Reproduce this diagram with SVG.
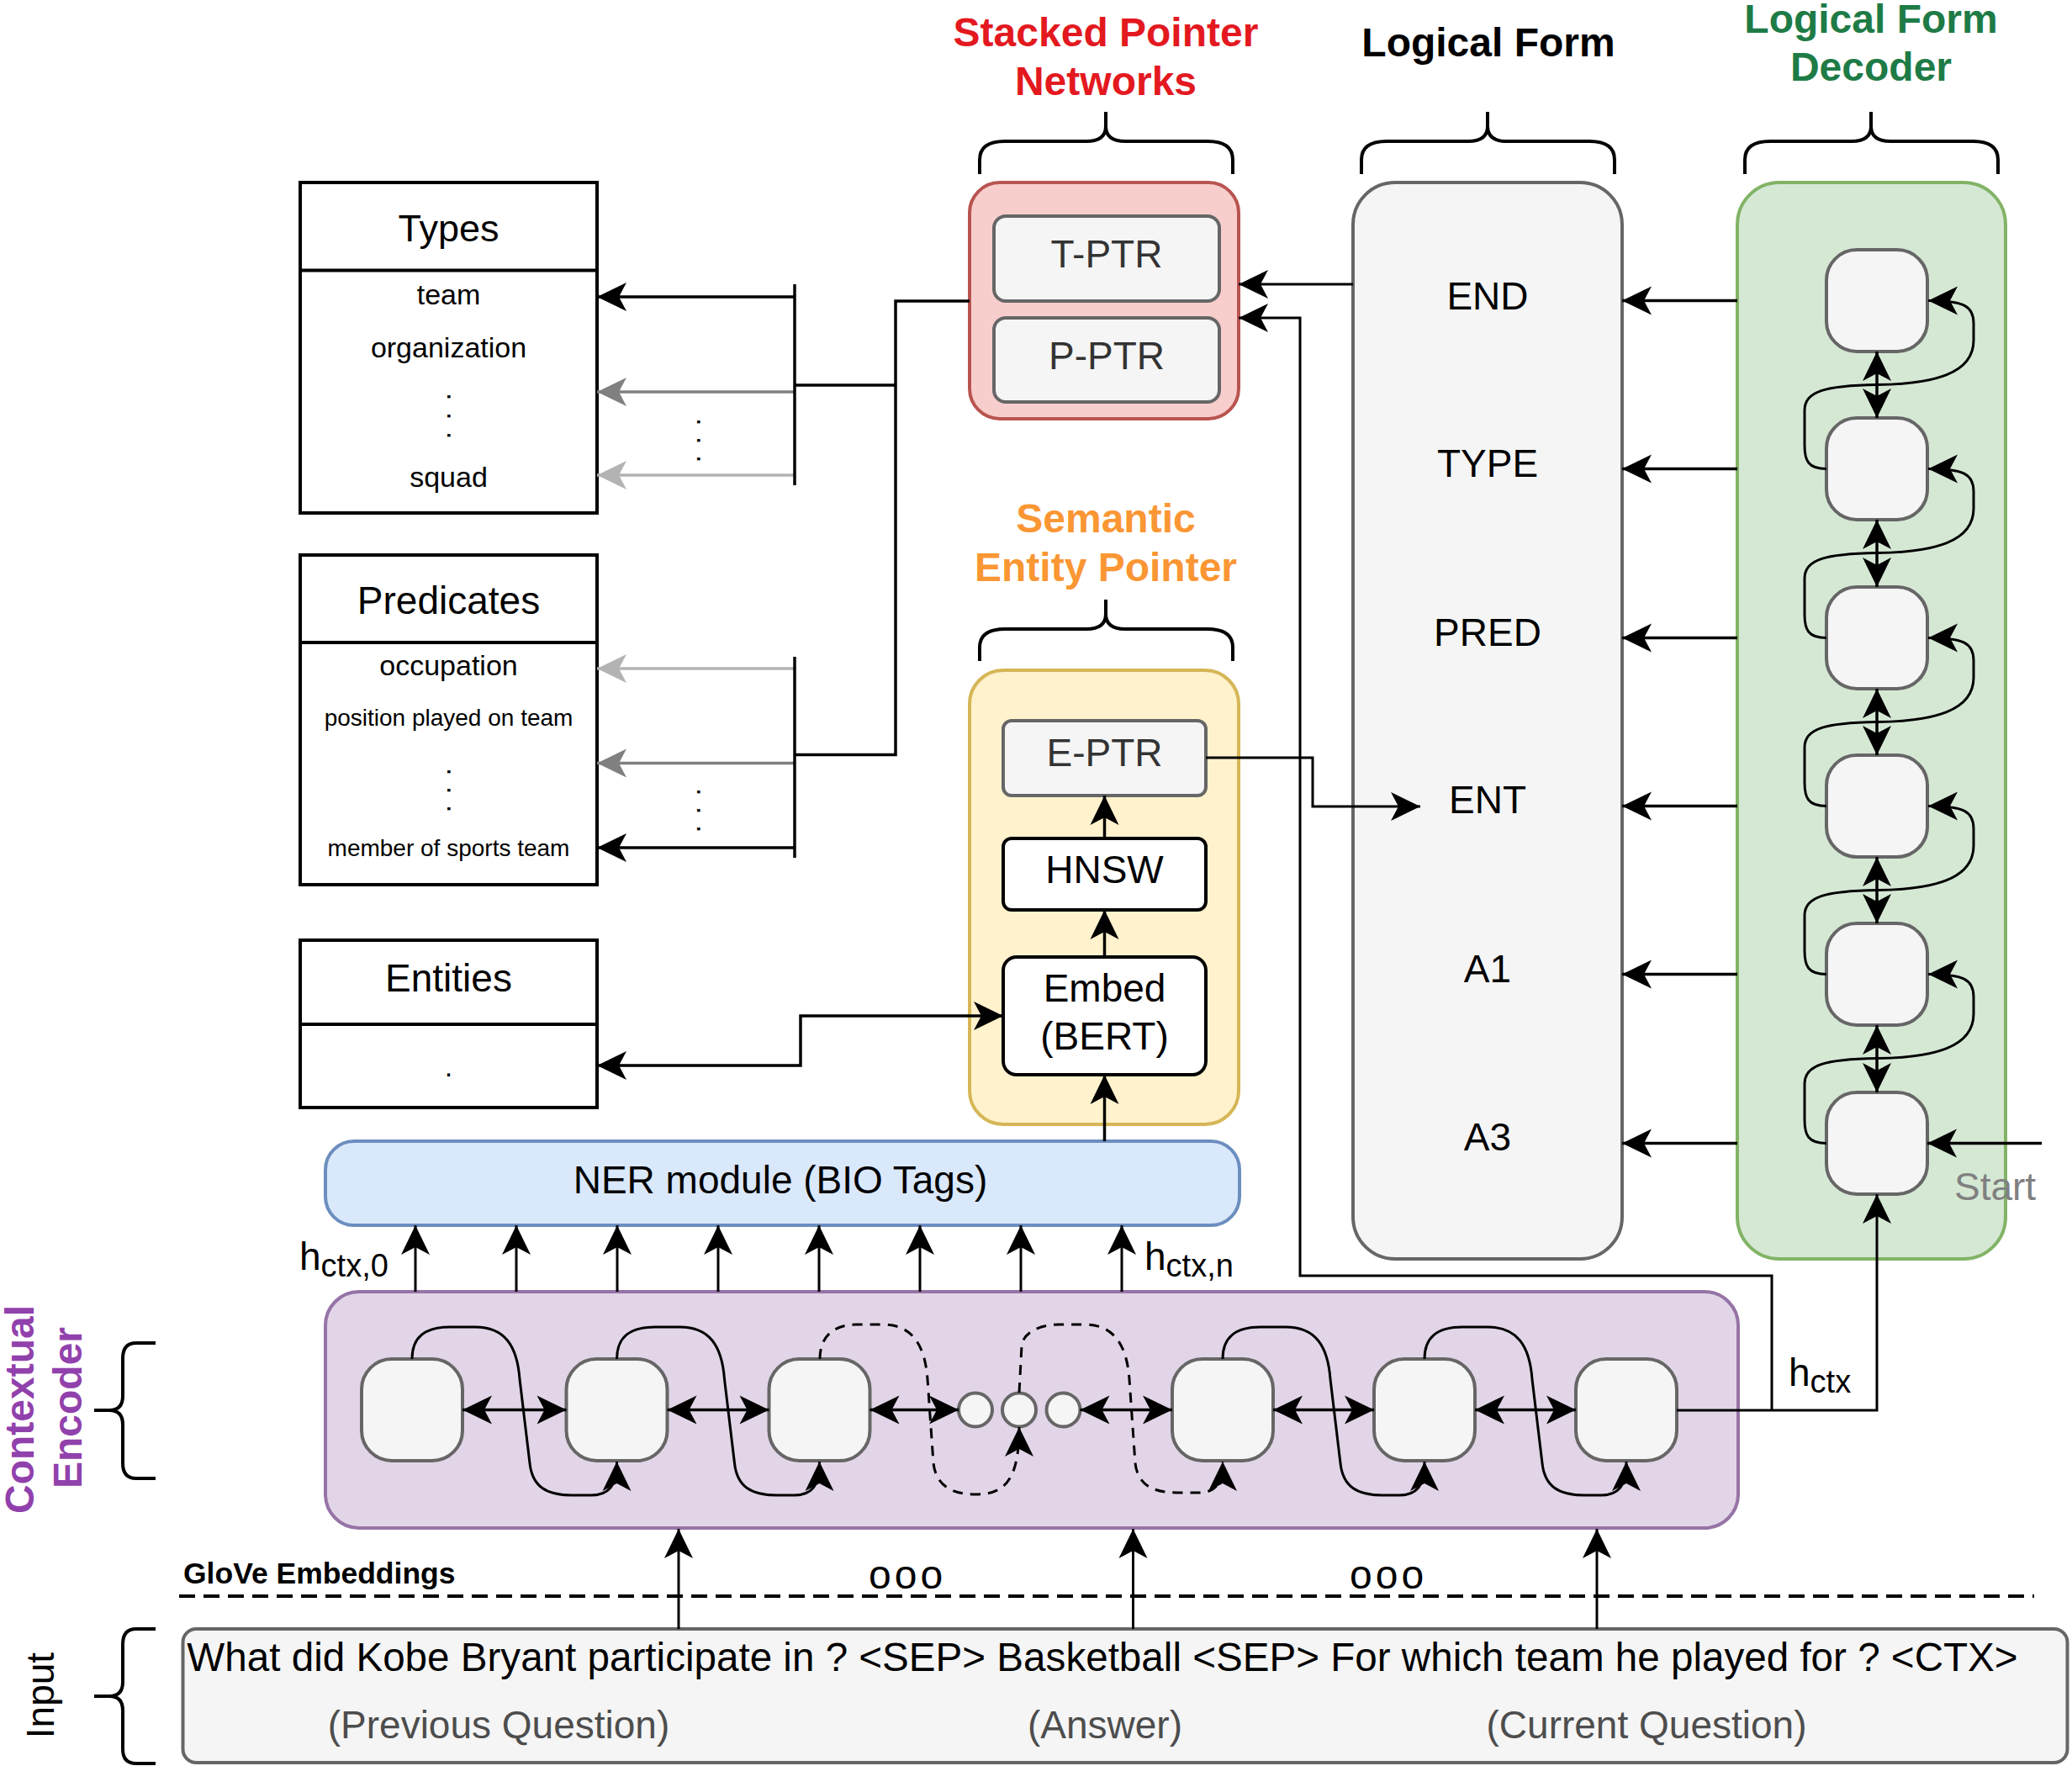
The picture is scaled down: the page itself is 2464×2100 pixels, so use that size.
<svg xmlns="http://www.w3.org/2000/svg" width="2464" height="2100" viewBox="0 0 2464 2100">
<style>
text{font-family:"Liberation Sans",Arial,Helvetica,sans-serif;fill:#000}
.ln{fill:none;stroke:#000;stroke-width:3.5}
.th{fill:none;stroke:#000;stroke-width:3}
.ds{fill:none;stroke:#000;stroke-width:3;stroke-dasharray:12 9}
.ar{marker-end:url(#ah)}
.ab{marker-start:url(#ah);marker-end:url(#ah)}
.brace{fill:none;stroke:#000;stroke-width:4}
.box{fill:#fff;stroke:#000;stroke-width:4}
.node{fill:#f5f5f5;stroke:#666;stroke-width:4}
.t46{font-size:46px;text-anchor:middle}
.ttl{font-size:48px;font-weight:bold;text-anchor:middle}
.vd{font-size:34px;letter-spacing:13.5px}
</style>
<defs>
<marker id="ah" markerUnits="userSpaceOnUse" viewBox="-36 -18 37 36" refX="0" refY="0" markerWidth="37" markerHeight="36" orient="auto-start-reverse"><path d="M0,0 L-35,-17 L-26,0 L-35,17 Z" fill="#000"/></marker>
<marker id="ahg" markerUnits="userSpaceOnUse" viewBox="-36 -18 37 36" refX="0" refY="0" markerWidth="37" markerHeight="36" orient="auto"><path d="M0,0 L-35,-17 L-26,0 L-35,17 Z" fill="#808080"/></marker>
<marker id="ahl" markerUnits="userSpaceOnUse" viewBox="-36 -18 37 36" refX="0" refY="0" markerWidth="37" markerHeight="36" orient="auto"><path d="M0,0 L-35,-17 L-26,0 L-35,17 Z" fill="#b3b3b3"/></marker>
</defs>
<rect width="2464" height="2100" fill="#fff"/>

<!-- Titles and braces -->
<g id="title-stacked">
<text class="ttl" x="1315" y="55" style="fill:#e3191f">Stacked Pointer</text>
<text class="ttl" x="1315" y="113" style="fill:#e3191f">Networks</text>
<path class="brace" d="M1165,207 L1165,190 Q1165,168 1195,168 L1292,168 Q1315,168 1315,150 L1315,133 M1315,150 Q1315,168 1338,168 L1436,168 Q1466,168 1466,190 L1466,207"/>
</g>
<g id="title-lf">
<text class="ttl" x="1770" y="67">Logical Form</text>
<path class="brace" d="M1619,207 L1619,190 Q1619,168 1649,168 L1746,168 Q1769,168 1769,150 L1769,133 M1769,150 Q1769,168 1792,168 L1890,168 Q1920,168 1920,190 L1920,207"/>
</g>
<g id="title-decoder">
<text class="ttl" x="2225" y="39" style="fill:#1e7b46">Logical Form</text>
<text class="ttl" x="2225" y="96" style="fill:#1e7b46">Decoder</text>
<path class="brace" d="M2075,207 L2075,190 Q2075,168 2105,168 L2202,168 Q2225,168 2225,150 L2225,133 M2225,150 Q2225,168 2248,168 L2346,168 Q2376,168 2376,190 L2376,207"/>
</g>
<g id="title-semantic">
<text class="ttl" x="1315" y="633" style="fill:#fa9633">Semantic</text>
<text class="ttl" x="1315" y="691" style="fill:#fa9633">Entity Pointer</text>
<path class="brace" d="M1165,786 L1165,770 Q1165,748 1195,748 L1292,748 Q1315,748 1315,730 L1315,713 M1315,730 Q1315,748 1338,748 L1436,748 Q1466,748 1466,770 L1466,786"/>
</g>

<!-- Types -->
<g id="types">
<rect class="box" x="357" y="217" width="353" height="393"/>
<line x1="357" y1="321.5" x2="710" y2="321.5" stroke="#000" stroke-width="4"/>
<text x="533.5" y="287" font-size="45" text-anchor="middle">Types</text>
<text x="533.5" y="362" font-size="34" text-anchor="middle">team</text>
<text x="533.5" y="425" font-size="34" text-anchor="middle">organization</text>
<text class="vd" transform="translate(531.5,467) rotate(90)">...</text>
<text x="533.5" y="579" font-size="34" text-anchor="middle">squad</text>
</g>
<!-- Predicates -->
<g id="predicates">
<rect class="box" x="357" y="660" width="353" height="392"/>
<line x1="357" y1="764" x2="710" y2="764" stroke="#000" stroke-width="4"/>
<text x="533.5" y="730" font-size="46" text-anchor="middle">Predicates</text>
<text x="533.5" y="803" font-size="34" text-anchor="middle">occupation</text>
<text x="533.5" y="863" font-size="28" text-anchor="middle">position played on team</text>
<text class="vd" transform="translate(531.5,913) rotate(90)" style="letter-spacing:12.5px">...</text>
<text x="533.5" y="1018" font-size="28" text-anchor="middle">member of sports team</text>
</g>
<!-- Entities -->
<g id="entities">
<rect class="box" x="357" y="1118" width="353" height="199"/>
<line x1="357" y1="1218" x2="710" y2="1218" stroke="#000" stroke-width="4"/>
<text x="533.5" y="1179" font-size="46" text-anchor="middle">Entities</text>
<text x="533.5" y="1280" font-size="34" text-anchor="middle">.</text>
</g>
<g id="bar-dots">
<text class="vd" transform="translate(829,497) rotate(90)" style="letter-spacing:12.5px">...</text>
<text class="vd" transform="translate(829,937) rotate(90)" style="letter-spacing:12.5px">...</text>
</g>

<!-- Stacked pointer networks -->
<g id="stacked-ptr">
<rect x="1153" y="217" width="320" height="281" rx="36" fill="#f8cecc" stroke="#b85450" stroke-width="4"/>
<rect class="node" x="1182" y="257" width="268" height="101" rx="14"/>
<text class="t46" x="1316" y="318" style="fill:#333">T-PTR</text>
<rect class="node" x="1182" y="378" width="268" height="100" rx="14"/>
<text class="t46" x="1316" y="439" style="fill:#333">P-PTR</text>
</g>

<!-- Semantic entity pointer -->
<g id="semantic-ptr">
<rect x="1153" y="797" width="320" height="540" rx="40" fill="#fff2cc" stroke="#d6b656" stroke-width="4"/>
<rect class="node" x="1193" y="857" width="241" height="89" rx="10"/>
<text class="t46" x="1313.5" y="911" style="fill:#333">E-PTR</text>
<rect class="box" x="1193" y="997" width="241" height="85" rx="10"/>
<text class="t46" x="1313.5" y="1050">HNSW</text>
<rect class="box" x="1193" y="1138" width="241" height="140" rx="16"/>
<text class="t46" x="1313.5" y="1191">Embed</text>
<text class="t46" x="1313.5" y="1248">(BERT)</text>
</g>

<!-- Logical form -->
<g id="logical-form">
<rect x="1609" y="217" width="320" height="1280" rx="50" fill="#f5f5f5" stroke="#666" stroke-width="4"/>
<text class="t46" x="1769" y="368">END</text>
<text class="t46" x="1769" y="567">TYPE</text>
<text class="t46" x="1769" y="768">PRED</text>
<text class="t46" x="1769" y="967">ENT</text>
<text class="t46" x="1769" y="1168">A1</text>
<text class="t46" x="1769" y="1368">A3</text>
</g>

<!-- Decoder -->
<g id="decoder">
<rect x="2066" y="217" width="319" height="1280" rx="50" fill="#d5e8d4" stroke="#82b366" stroke-width="4"/>
<rect class="node" x="2172" y="297" width="120" height="121" rx="36"/>
<rect class="node" x="2172" y="497" width="120" height="121" rx="36"/>
<rect class="node" x="2172" y="698" width="120" height="121" rx="36"/>
<rect class="node" x="2172" y="898" width="120" height="121" rx="36"/>
<rect class="node" x="2172" y="1098" width="120" height="121" rx="36"/>
<rect class="node" x="2172" y="1299" width="120" height="121" rx="36"/>
<text x="2324" y="1427" font-size="46" style="fill:#808080">Start</text>
</g>

<!-- NER -->
<g id="ner">
<rect x="387" y="1357" width="1087" height="100" rx="34" fill="#dae8fc" stroke="#6c8ebf" stroke-width="4"/>
<text class="t46" x="928" y="1419">NER module (BIO Tags)</text>
</g>

<!-- Encoder -->
<g id="encoder">
<rect x="387" y="1536" width="1680" height="281" rx="40" fill="#e1d5e7" stroke="#9673a6" stroke-width="4"/>
<rect class="node" x="430" y="1616" width="120" height="121" rx="36"/>
<rect class="node" x="673.5" y="1616" width="120" height="121" rx="36"/>
<rect class="node" x="914.5" y="1616" width="120" height="121" rx="36"/>
<circle class="node" cx="1160" cy="1676.5" r="20" stroke-width="3.5"/>
<circle class="node" cx="1212" cy="1676.5" r="20" stroke-width="3.5"/>
<circle class="node" cx="1264.5" cy="1676.5" r="20" stroke-width="3.5"/>
<rect class="node" x="1394" y="1616" width="120" height="121" rx="36"/>
<rect class="node" x="1634" y="1616" width="120" height="121" rx="36"/>
<rect class="node" x="1874" y="1616" width="120" height="121" rx="36"/>
</g>
<g id="encoder-label">
<text transform="translate(40,1676) rotate(-90)" font-size="48" font-weight="bold" text-anchor="middle" style="fill:#9141ac">Contextual</text>
<text transform="translate(97,1674) rotate(-90)" font-size="48" font-weight="bold" text-anchor="middle" style="fill:#9141ac">Encoder</text>
<path class="brace" d="M185,1597 L162,1597 Q146,1597 146,1615 L146,1660 Q146,1677 130,1677 L112,1677 M130,1677 Q146,1677 146,1694 L146,1740 Q146,1758 162,1758 L185,1758"/>
</g>

<!-- Input -->
<g id="input">
<rect x="217.5" y="1937" width="2241" height="159" rx="16" fill="#f5f5f5" stroke="#666" stroke-width="4"/>
<text x="1311" y="1987" font-size="47.6" text-anchor="middle">What did Kobe Bryant participate in ? &lt;SEP&gt; Basketball &lt;SEP&gt; For which team he played for ? &lt;CTX&gt;</text>
<text x="593" y="2067" font-size="46" text-anchor="middle" style="fill:#4d4d4d">(Previous Question)</text>
<text x="1314" y="2067" font-size="46" text-anchor="middle" style="fill:#4d4d4d">(Answer)</text>
<text x="1958" y="2067" font-size="46" text-anchor="middle" style="fill:#4d4d4d">(Current Question)</text>
</g>
<g id="input-label">
<text transform="translate(64,2016) rotate(-90)" font-size="46" text-anchor="middle">Input</text>
<path class="brace" d="M185,1937 L162,1937 Q146,1937 146,1955 L146,2000 Q146,2017 130,2017 L112,2017 M130,2017 Q146,2017 146,2034 L146,2080 Q146,2097 162,2097 L185,2097"/>
</g>
<g id="glove">
<text x="218" y="1883" font-size="35.5" font-weight="bold">GloVe Embeddings</text>
<line x1="213" y1="1898" x2="2419" y2="1898" stroke="#000" stroke-width="4" stroke-dasharray="19 10"/>
<text x="1033" y="1889" font-size="48" letter-spacing="4">ooo</text>
<text x="1605" y="1889" font-size="48" letter-spacing="4">ooo</text>
</g>

<!-- Labels -->
<g id="labels">
<text x="356" y="1510" font-size="46">h<tspan font-size="38" dy="8">ctx,0</tspan></text>
<text x="1361" y="1510" font-size="46">h<tspan font-size="38" dy="8">ctx,n</tspan></text>
<text x="2127" y="1648" font-size="46">h<tspan font-size="38" dy="8">ctx</tspan></text>
</g>

<!-- Connectors -->
<g id="connectors">
<path class="ln ar" d="M945,353 H710"/>
<path d="M945,466 H710" fill="none" stroke="#808080" stroke-width="3.5" marker-end="url(#ahg)"/>
<path d="M945,565 H710" fill="none" stroke="#b3b3b3" stroke-width="3.5" marker-end="url(#ahl)"/>
<path class="ln" d="M945,338 V577"/>
<path d="M945,795 H710" fill="none" stroke="#b3b3b3" stroke-width="3.5" marker-end="url(#ahl)"/>
<path d="M945,907.5 H710" fill="none" stroke="#808080" stroke-width="3.5" marker-end="url(#ahg)"/>
<path class="ln ar" d="M945,1008 H710"/>
<path class="ln" d="M945,781 V1020"/>
<path class="ln" d="M1153,358 H1065 V897.5 H945 M1065,458 H945"/>
<path class="ln ab" d="M710,1267 H952 V1208 H1193"/>
<path class="ln ar" d="M1313.5,1357 V1278"/>
<path class="ln ar" d="M1313.5,1138 V1082"/>
<path class="ln ar" d="M1313.5,997 V946"/>
<path class="th ar" d="M1434,901 H1561 V959 H1689"/>
<path class="th ar" d="M1609,338 H1473"/>
<path class="th ar" d="M2107,1677 V1517 H1546 V378 H1473"/>
<path class="th ar" d="M1994,1677 H2232 V1420"/>
<path class="ln ar" d="M2066,357.5 H1929"/>
<path class="ln ar" d="M2066,557.5 H1929"/>
<path class="ln ar" d="M2066,758.5 H1929"/>
<path class="ln ar" d="M2066,958.5 H1929"/>
<path class="ln ar" d="M2066,1158.5 H1929"/>
<path class="ln ar" d="M2066,1359.5 H1929"/>
<path class="ln ar" d="M2428,1359.5 H2292"/>
<path class="ln ab" d="M2232,418 V497"/>
<path class="ln ab" d="M2232,618 V698"/>
<path class="ln ab" d="M2232,819 V898"/>
<path class="ln ab" d="M2232,1019 V1098"/>
<path class="ln ab" d="M2232,1219 V1299"/>
<path class="th ar" d="M2172,557.5 C2150,557.5 2146,547.5 2146,529.5 L2146,487.5 C2146,465.5 2170,458.5 2232,457.5 C2300,456.5 2347,444.5 2347,404.5 L2347,384.5 C2347,363.5 2335,357.5 2293,357.5"/>
<path class="th ar" d="M2172,758.5 C2150,758.5 2146,748.5 2146,730.5 L2146,687.5 C2146,665.5 2170,658.5 2232,657.5 C2300,656.5 2347,644.5 2347,604.5 L2347,584.5 C2347,563.5 2335,557.5 2293,557.5"/>
<path class="th ar" d="M2172,958.5 C2150,958.5 2146,948.5 2146,930.5 L2146,888.5 C2146,866.5 2170,859.5 2232,858.5 C2300,857.5 2347,845.5 2347,805.5 L2347,785.5 C2347,764.5 2335,758.5 2293,758.5"/>
<path class="th ar" d="M2172,1158.5 C2150,1158.5 2146,1148.5 2146,1130.5 L2146,1088.5 C2146,1066.5 2170,1059.5 2232,1058.5 C2300,1057.5 2347,1045.5 2347,1005.5 L2347,985.5 C2347,964.5 2335,958.5 2293,958.5"/>
<path class="th ar" d="M2172,1359.5 C2150,1359.5 2146,1349.5 2146,1331.5 L2146,1288.5 C2146,1266.5 2170,1259.5 2232,1258.5 C2300,1257.5 2347,1245.5 2347,1205.5 L2347,1185.5 C2347,1164.5 2335,1158.5 2293,1158.5"/>
<path class="th ar" d="M494,1536 V1457"/>
<path class="th ar" d="M614,1536 V1457"/>
<path class="th ar" d="M734,1536 V1457"/>
<path class="th ar" d="M854,1536 V1457"/>
<path class="th ar" d="M974,1536 V1457"/>
<path class="th ar" d="M1094,1536 V1457"/>
<path class="th ar" d="M1214,1536 V1457"/>
<path class="th ar" d="M1334,1536 V1457"/>
<path class="ln ab" d="M550,1676.5 H673.5"/>
<path class="ln ab" d="M793.5,1676.5 H914.5"/>
<path class="ln ab" d="M1034.5,1676.5 H1140"/>
<path class="ln ab" d="M1284.5,1676.5 H1394"/>
<path class="ln ab" d="M1514,1676.5 H1634"/>
<path class="ln ab" d="M1754,1676.5 H1874"/>
<path class="th ar" d="M490,1616 C490,1590 505,1578 535,1578 L565,1578 C600,1578 615,1600 618,1640 L630,1740 C633,1768 650,1778 680,1778 L703,1778 C723,1778 733.5,1768 733.5,1738"/>
<path class="th ar" d="M733.5,1616 C733.5,1590 748.5,1578 778.5,1578 L808.5,1578 C843.5,1578 858.5,1600 861.5,1640 L873.5,1740 C876.5,1768 893.5,1778 923.5,1778 L944.5,1778 C964.5,1778 974.5,1768 974.5,1738"/>
<path class="th ar" d="M1454,1616 C1454,1590 1469,1578 1499,1578 L1529,1578 C1564,1578 1579,1600 1582,1640 L1594,1740 C1597,1768 1614,1778 1644,1778 L1664,1778 C1684,1778 1694,1768 1694,1738"/>
<path class="th ar" d="M1694,1616 C1694,1590 1709,1578 1739,1578 L1769,1578 C1804,1578 1819,1600 1822,1640 L1834,1740 C1837,1768 1854,1778 1884,1778 L1904,1778 C1924,1778 1934,1768 1934,1738"/>
<path class="ds ar" d="M975,1616 C975,1590 990,1575 1020,1575 L1050,1575 C1085,1575 1100,1600 1103,1640 L1110,1740 C1113,1765 1130,1777 1160,1777 C1195,1777 1212,1760 1212,1697"/>
<path class="ds ar" d="M1212,1656 L1215,1600 C1217,1585 1235,1575 1260,1575 L1290,1575 C1325,1575 1340,1600 1343,1640 L1350,1740 C1353,1765 1370,1775 1400,1775 L1425,1775 C1445,1775 1454,1765 1454,1738"/>
<path class="th ar" d="M807,1937 V1818" stroke-width="2.5"/>
<path class="th ar" d="M1347.5,1937 V1818" stroke-width="2.5"/>
<path class="th ar" d="M1899,1937 V1818" stroke-width="2.5"/>
</g>
</svg>
